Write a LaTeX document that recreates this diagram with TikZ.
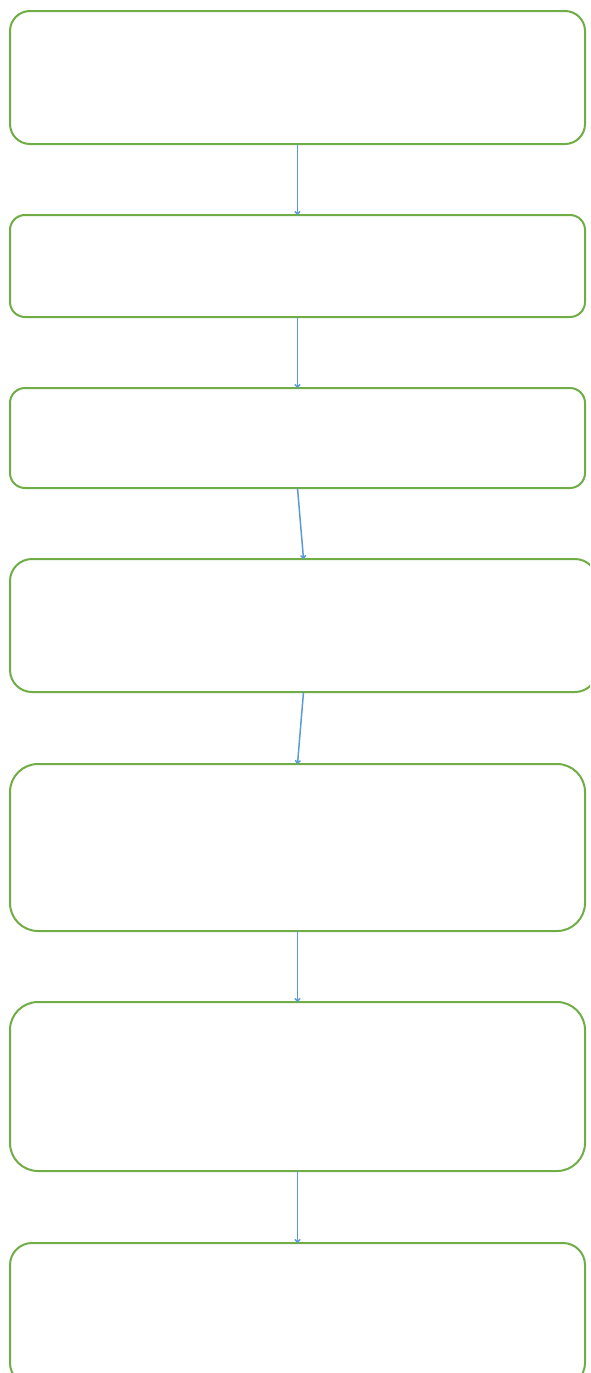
\documentclass[tikz,border=0pt]{standalone}
\usetikzlibrary{arrows.meta}
\definecolor{boxgreen}{HTML}{70AD47}
\definecolor{arrowblue}{HTML}{5B9BD5}
\tikzset{
  stepbox/.style={draw=boxgreen, line width=2pt, rectangle, inner sep=0pt, outer sep=0pt},
  conn/.style={draw=arrowblue, line width=1.5pt, -{To[length=4pt,width=6pt]}}
}
\begin{document}
\begin{tikzpicture}[x=1pt,y=-1pt]
\useasboundingbox (0,0) rectangle (590,1373);
\clip (0,0) rectangle (590,1373);
\node[stepbox, rounded corners=20pt, minimum width=575pt, minimum height=133pt] (b1) at (297.5,77.5) {};
\node[stepbox, rounded corners=15pt, minimum width=575pt, minimum height=102pt] (b2) at (297.5,266) {};
\node[stepbox, rounded corners=15pt, minimum width=575pt, minimum height=100pt] (b3) at (297.5,438) {};
\node[stepbox, rounded corners=22pt, minimum width=587pt, minimum height=133pt] (b4) at (303.5,625.5) {};
\node[stepbox, rounded corners=28pt, minimum width=575pt, minimum height=167pt] (b5) at (297.5,847.5) {};
\node[stepbox, rounded corners=28pt, minimum width=575pt, minimum height=169pt] (b6) at (297.5,1086.5) {};
\node[stepbox, rounded corners=22pt, minimum width=575pt, minimum height=142pt] (b7) at (297.5,1314) {};
\draw[conn] (b1.south) -- (b2.north);
\draw[conn] (b2.south) -- (b3.north);
\draw[conn] (b3.south) -- (b4.north);
\draw[conn] (b4.south) -- (b5.north);
\draw[conn] (b5.south) -- (b6.north);
\draw[conn] (b6.south) -- (b7.north);
\end{tikzpicture}
\end{document}
